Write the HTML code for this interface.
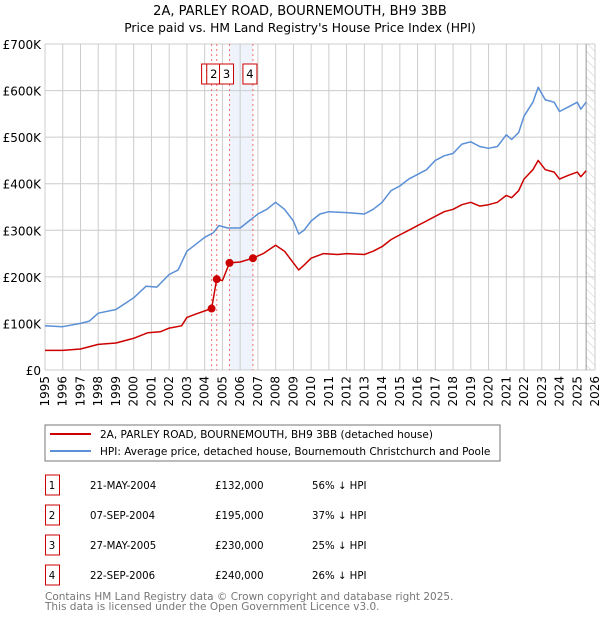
<!DOCTYPE html>
<html><head><meta charset="utf-8"><style>
body{margin:0;background:#fff;font-family:"DejaVu Sans","Liberation Sans",sans-serif;}
svg text{font-family:"DejaVu Sans","Liberation Sans",sans-serif;}
</style></head><body>
<svg id="c" width="600" height="620" xmlns="http://www.w3.org/2000/svg">
<defs><pattern id="hatch" width="6" height="6" patternUnits="userSpaceOnUse" patternTransform="rotate(-45)"><line x1="0" y1="0" x2="0" y2="6" stroke="#ccc" stroke-width="1"/></pattern></defs>
<text x="300" y="15" text-anchor="middle" font-size="13">2A, PARLEY ROAD, BOURNEMOUTH, BH9 3BB</text>
<text x="300" y="32" text-anchor="middle" font-size="12.3">Price paid vs. HM Land Registry's House Price Index (HPI)</text>
<g id="grid"></g><g id="marks"></g>
<rect x="45" y="425" width="455" height="36" fill="none" stroke="#777"/>
<line x1="50" y1="434" x2="91" y2="434" stroke="#cc0000" stroke-width="2"/>
<text x="100" y="438" font-size="10.5">2A, PARLEY ROAD, BOURNEMOUTH, BH9 3BB (detached house)</text>
<line x1="50" y1="451" x2="91" y2="451" stroke="#5b8fd6" stroke-width="2"/>
<text x="100" y="455" font-size="10.5">HPI: Average price, detached house, Bournemouth Christchurch and Poole</text>
<g id="table" font-size="10.2"></g>
<text x="45" y="600" font-size="10.5" fill="#777">Contains HM Land Registry data © Crown copyright and database right 2025.</text>
<text x="45" y="610" font-size="10.5" fill="#777">This data is licensed under the Open Government Licence v3.0.</text>
</svg>
<script>
const yTicks=[0,100,200,300,400,500,600,700];
const yTickLabels=["£0","£100K","£200K","£300K","£400K","£500K","£600K","£700K"];
const years=[1995,1996,1997,1998,1999,2000,2001,2002,2003,2004,2005,2006,2007,2008,2009,2010,2011,2012,2013,2014,2015,2016,2017,2018,2019,2020,2021,2022,2023,2024,2025,2026];
const hpiT=[1995,1996,1997,1997.5,1998,1999,2000,2000.7,2001.3,2002,2002.5,2003,2003.5,2004,2004.5,2004.8,2005.3,2006,2006.5,2007,2007.5,2008,2008.5,2009,2009.3,2009.6,2010,2010.5,2011,2012,2013,2013.5,2014,2014.5,2015,2015.5,2016,2016.5,2017,2017.5,2018,2018.5,2019,2019.5,2020,2020.5,2021,2021.3,2021.7,2022,2022.5,2022.8,2023.2,2023.7,2024,2024.5,2025,2025.2,2025.5];
const hpiV=[95,93,100,105,122,130,155,180,178,205,215,255,270,285,295,310,305,305,320,335,345,360,345,320,292,300,320,335,340,338,335,345,360,385,395,410,420,430,450,460,465,485,490,480,476,480,505,495,510,545,575,607,580,575,555,565,575,560,575];
const redT=[1995,1996,1997,1998,1999,2000,2000.8,2001.5,2002,2002.7,2003,2003.5,2004.39,2004.68,2005.0,2005.4,2006,2006.72,2007.3,2008,2008.5,2009,2009.3,2009.6,2010,2010.7,2011.5,2012,2013,2013.5,2014,2014.5,2015,2015.5,2016,2016.5,2017,2017.5,2018,2018.5,2019,2019.5,2020,2020.5,2021,2021.3,2021.7,2022,2022.5,2022.8,2023.2,2023.7,2024,2024.5,2025,2025.2,2025.5];
const redV=[42,42,45,55,58,68,80,82,90,95,113,120,132,195,192,230,232,240,250,268,255,230,215,225,240,250,248,250,248,255,265,280,290,300,310,320,330,340,345,355,360,352,355,360,375,370,385,410,430,450,430,425,410,418,425,415,428];
const saleT=[2004.39,2004.68,2005.4,2006.72];
const saleV=[132,195,230,240];
const saleLabels=["1","2","3","4"];
const saleDates=["21-MAY-2004","07-SEP-2004","27-MAY-2005","22-SEP-2006"];
const salePrices=["£132,000","£195,000","£230,000","£240,000"];
const saleHpi=["56% ↓ HPI","37% ↓ HPI","25% ↓ HPI","26% ↓ HPI"];
const NS="http://www.w3.org/2000/svg";
const X=t=>45+(t-1995)*(550/31), Y=v=>370-v*(326/700);
function mk(tag,a,parent){const e=document.createElementNS(NS,tag);for(const k in a)e.setAttribute(k,a[k]);parent.appendChild(e);return e;}
const g=document.getElementById('grid'), m=document.getElementById('marks'), tb=document.getElementById('table');
let sh=mk('rect',{x:X(saleT[2]),y:44,width:X(saleT[3])-X(saleT[2]),height:326,fill:'#eef3fc'},g);


let ht=mk('rect',{x:X(2025.5),y:44,width:595-X(2025.5),height:326,fill:'url(#hatch)'},g);


yTicks.forEach((v,i)=>{
 let l=mk('line',{x1:45,x2:595,y1:Y(v),y2:Y(v),stroke:'#ccc'},g);
 
 
 let t=mk('text',{x:41,y:Y(v)+5,'text-anchor':'end','font-size':12},g);t.textContent=yTickLabels[i];
 
 
});
years.forEach(y=>{
 let l=mk('line',{x1:X(y),x2:X(y),y1:44,y2:370,stroke:'#ccc'},g);
 
 
 let t=mk('text',{x:0,y:0,'text-anchor':'end','font-size':12,transform:`translate(${X(y)+4},376) rotate(-90)`},g);t.textContent=y;
 
 
});
let bl=mk('line',{x1:X(2025.5),x2:X(2025.5),y1:44,y2:370,stroke:'#999'},g);


saleT.forEach((t,i)=>{
 let l=mk('line',{x1:X(t),x2:X(t),y1:44,y2:370,stroke:'#f07070','stroke-dasharray':'2,3'},m);
 
 
});
function path(T,V,c,name){let d=T.map((t,i)=>(i?'L':'M')+X(t).toFixed(1)+','+Y(V[i]).toFixed(1)).join('');
 let p=mk('path',{d,fill:'none',stroke:c,'stroke-width':1.5,'stroke-linejoin':'round'},m);
 
 }
path(hpiT,hpiV,'#5b8fd6','hpi-line');
path(redT,redV,'#cc0000','price-line');
saleT.forEach((t,i)=>{
 let c=mk('circle',{cx:X(t),cy:Y(saleV[i]),r:4,fill:'#cc0000'},m);
 
 
 let bx=mk('rect',{x:X(t)-10,y:64,width:14,height:20,fill:'#fff',stroke:'#cc0000'},m);
 
 
 let tx=mk('text',{x:X(t)-3,y:78,'text-anchor':'middle','font-size':11.5},m);tx.textContent=saleLabels[i];
 
 
 const ry=475+i*30;
 let rb=mk('rect',{x:45.5,y:ry,width:14,height:20,fill:'none',stroke:'#cc0000'},tb);
 
 
 let cells=[[52,saleLabels[i],'middle'],[90,saleDates[i],'start'],[215,salePrices[i],'start'],[312,saleHpi[i],'start']];
 cells.forEach(([x,s,a])=>{let e=mk('text',{x,y:ry+14,'text-anchor':a},tb);e.textContent=s;
  
  });
});
</script>
</body></html>
